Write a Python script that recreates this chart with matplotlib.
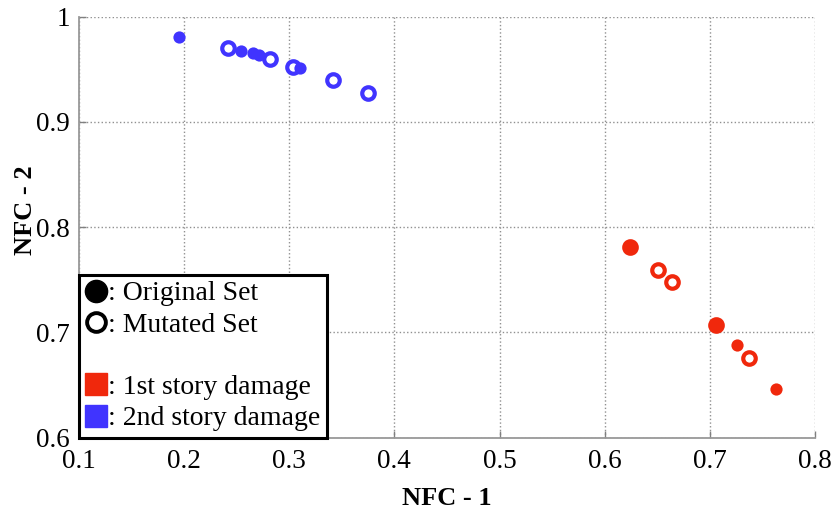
import numpy as np
import matplotlib
matplotlib.use("Agg")
import matplotlib.pyplot as plt
from matplotlib.lines import Line2D

plt.rcParams['font.family'] = ['Liberation Serif', 'DejaVu Serif']

RED = '#F0280C'
BLUE = '#4034FF'

# 1st story damage (red)
red_orig_x = [0.6244, 0.7061, 0.7256, 0.7630]
red_orig_y = [0.7814, 0.7069, 0.6879, 0.6458]
red_mut_x = [0.6244, 0.6506, 0.6639, 0.7061, 0.7368]
red_mut_y = [0.7814, 0.7592, 0.7475, 0.7069, 0.6759]

# 2nd story damage (blue)
blue_orig_x = [0.1954, 0.2543, 0.2660, 0.2714, 0.3104]
blue_orig_y = [0.9810, 0.9677, 0.9652, 0.9636, 0.9510]
blue_mut_x = [0.2423, 0.2819, 0.3040, 0.3420, 0.3746]
blue_mut_y = [0.9705, 0.9598, 0.9525, 0.9398, 0.9278]

xticks = [0.1, 0.2, 0.3, 0.4, 0.5, 0.6, 0.7, 0.8]
yticks = [0.6, 0.7, 0.8, 0.9, 1.0]
xtick_labels = ['0.1', '0.2', '0.3', '0.4', '0.5', '0.6', '0.7', '0.8']
ytick_labels = ['0.6', '0.7', '0.8', '0.9', '1']

fig = plt.figure(figsize=(8.38, 5.12), dpi=100)
ax = fig.add_axes([0.0937, 0.1455, 0.8792, 0.8219])

ms_fill = 8.8
ms_open = 9.0
mew_open = 3.0

for mx, my, c in [(red_mut_x, red_mut_y, RED), (blue_mut_x, blue_mut_y, BLUE)]:
    ax.plot(mx, my, ls='none', marker='o', ms=ms_open, mfc='white', mec=c, mew=mew_open, zorder=3)
for ox, oy, c in [(red_orig_x, red_orig_y, RED), (blue_orig_x, blue_orig_y, BLUE)]:
    ax.plot(ox, oy, ls='none', marker='o', ms=ms_fill, mfc=c, mec=c, mew=0, zorder=4)

ax.set_xlim(0.1, 0.8)
ax.set_ylim(0.6, 1.0)
ax.set_xticks(xticks)
ax.set_xticklabels(xtick_labels)
ax.set_yticks(yticks)
ax.set_yticklabels(ytick_labels)
ax.tick_params(direction='in', length=5, width=1, color='#808080', labelsize=19.5, pad=6)
ax.tick_params(axis='x', pad=8.5)

ax.grid(True, ls=':', color='#909090', lw=1.0)
ax.set_axisbelow(True)
for s in ['top', 'right']:
    ax.spines[s].set_visible(False)
for s in ['left', 'bottom']:
    ax.spines[s].set_color('#999999')
    ax.spines[s].set_linewidth(1.3)

ax.set_xlabel('NFC - 1', fontsize=19, fontweight='bold')
ax.set_ylabel('NFC - 2', fontsize=19, fontweight='bold')
ax.xaxis.set_label_coords(0.5, -0.117)
ax.yaxis.set_label_coords(-0.056, 0.54)

handles = [
    Line2D([], [], ls='none', marker='o', ms=16, mfc='black', mec='black'),
    Line2D([], [], ls='none', marker='o', ms=13.5, mfc='white', mec='black', mew=2.8),
    Line2D([], [], ls='none'),
    Line2D([], [], ls='none', marker='s', ms=16, mfc=RED, mec=RED),
    Line2D([], [], ls='none', marker='s', ms=16, mfc=BLUE, mec=BLUE),
]
labels = [': Original Set', ': Mutated Set', ' ', ': 1st story damage', ': 2nd story damage']
leg = ax.legend(handles, labels, loc='lower left', bbox_to_anchor=(0.0, 0.0),
                borderaxespad=0.0, fontsize=20, handlelength=0.85, handletextpad=0.0,
                labelspacing=0.21, borderpad=0.22, fancybox=False, framealpha=1,
                edgecolor='black')
leg.get_frame().set_linewidth(2.2)
leg.set_zorder(5)

fig.savefig('out.png', dpi=100)
